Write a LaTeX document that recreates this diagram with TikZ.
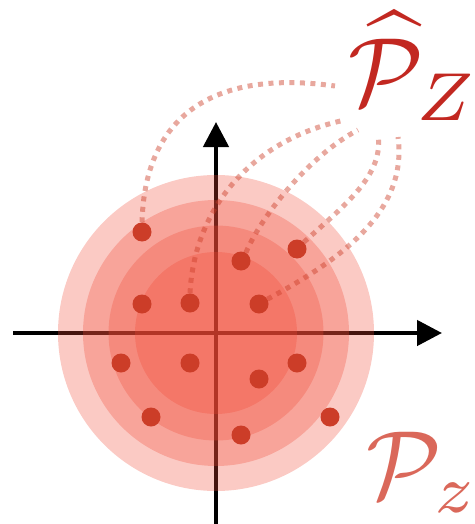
\documentclass[tikz,border=0pt]{standalone}
\usetikzlibrary{arrows.meta}
\definecolor{ring}{RGB}{240,73,53}
\definecolor{dotc}{RGB}{204,61,40}
\definecolor{toplab}{RGB}{194,40,33}
\definecolor{botlab}{RGB}{218,104,90}
\begin{document}
\begin{tikzpicture}[x=1pt,y=-1pt,
  axis/.style={line width=4.5pt, -{Triangle[length=25pt,width=25pt]}},
  ringfill/.style={fill=ring, fill opacity=0.29},
  pt/.style={circle, fill=dotc, inner sep=0pt, minimum size=19pt},
  link/.style={draw=dotc, draw opacity=0.45, line width=5pt, dash pattern=on 5pt off 5.5pt},
  lab/.style={scale=9.7, inner sep=0pt, anchor=base west}]
\useasboundingbox (0,0) rectangle (474,524);
% axes
\coordinate (xs) at (13,333);
\coordinate (xe) at (442,333);
\coordinate (ys) at (216,530);
\coordinate (ye) at (216,122);
\draw[axis] (xs) -- (xe);
\draw[axis] (ys) -- (ye);
% rings
\coordinate (c) at (216,333);
\fill[ringfill] (c) circle[radius=158pt];
\fill[ringfill] (c) circle[radius=133pt];
\fill[ringfill] (c) circle[radius=107.5pt];
\fill[ringfill] (c) circle[radius=81pt];
% dots
\node[pt] (d1) at (142,232) {};
\node[pt] (d2) at (297,249) {};
\node[pt] (d3) at (241,261) {};
\node[pt] (d4) at (142,304) {};
\node[pt] (d5) at (190,303) {};
\node[pt] (d6) at (259,304) {};
\node[pt] (d7) at (121,363) {};
\node[pt] (d8) at (190,363) {};
\node[pt] (d9) at (297,363) {};
\node[pt] (d10) at (259,379) {};
\node[pt] (d11) at (151,417) {};
\node[pt] (d12) at (330,417) {};
\node[pt] (d13) at (241,435) {};
% labels
\node[lab, text=toplab] (phat) at (347,106) {$\widehat{\mathcal{P}}_Z$};
\node[lab, text=botlab] (pz) at (365,498) {$\mathcal{P}_z$};
% links
\coordinate (eA) at (335,86);
\coordinate (eB) at (345,120);
\coordinate (eC) at (358,130);
\coordinate (eD) at (378,135);
\coordinate (eE) at (398,137);
\draw[link] (d1.north) .. controls (145,110) and (220,70) .. (eA);
\draw[link] (d5.north) .. controls (194,210) and (250,140) .. (eB);
\draw[link] (d3.60) .. controls (262,215) and (310,155) .. (eC);
\draw[link] (d2.45) .. controls (345,205) and (384,175) .. (eD);
\draw[link] (d6.30) .. controls (340,260) and (408,212) .. (eE);
\end{tikzpicture}
\end{document}
